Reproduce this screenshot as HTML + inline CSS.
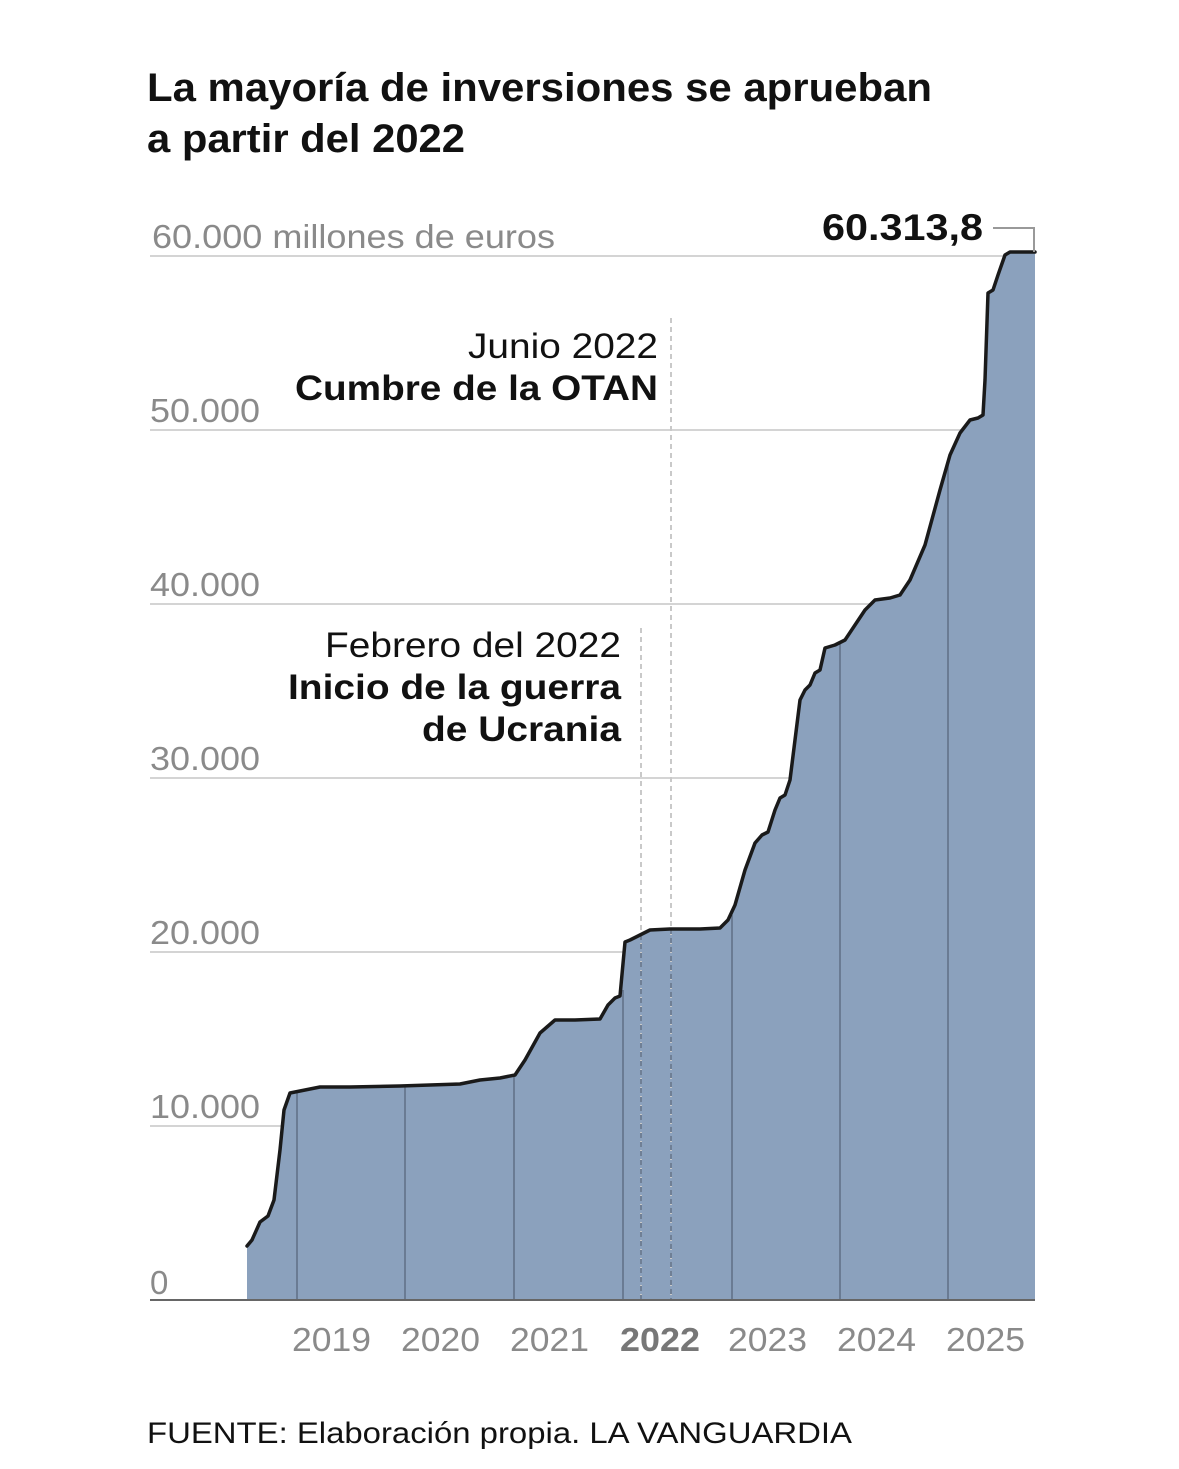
<!DOCTYPE html>
<html><head><meta charset="utf-8">
<style>
html,body{margin:0;padding:0;background:#fff;}
body{width:1179px;height:1469px;overflow:hidden;}
svg{display:block;font-family:"Liberation Sans",Arial,sans-serif;}
</style></head>
<body>
<svg width="1179" height="1469" viewBox="0 0 1179 1469">
<text x="147" y="101" font-size="40" font-weight="bold" fill="#111" textLength="785" lengthAdjust="spacingAndGlyphs">La mayoría de inversiones se aprueban</text>
<text x="147" y="152" font-size="40" font-weight="bold" fill="#111" textLength="318" lengthAdjust="spacingAndGlyphs">a partir del 2022</text>

<g stroke="#d4d4d4" stroke-width="2">
<line x1="150" y1="256" x2="1035" y2="256"/>
<line x1="150" y1="430" x2="1035" y2="430"/>
<line x1="150" y1="604" x2="1035" y2="604"/>
<line x1="150" y1="778" x2="1035" y2="778"/>
<line x1="150" y1="952" x2="1035" y2="952"/>
<line x1="150" y1="1126" x2="1035" y2="1126"/>
</g>
<g font-size="33" fill="#8a8a8a" lengthAdjust="spacingAndGlyphs">
<text x="152" y="248" textLength="403" lengthAdjust="spacingAndGlyphs">60.000 millones de euros</text>
<text x="150" y="422" textLength="110" lengthAdjust="spacingAndGlyphs">50.000</text>
<text x="150" y="596" textLength="110" lengthAdjust="spacingAndGlyphs">40.000</text>
<text x="150" y="770" textLength="110" lengthAdjust="spacingAndGlyphs">30.000</text>
<text x="150" y="944" textLength="110" lengthAdjust="spacingAndGlyphs">20.000</text>
<text x="150" y="1118" textLength="110" lengthAdjust="spacingAndGlyphs">10.000</text>
<text x="150" y="1294">0</text>
</g>

<path fill="#8ba1bd" stroke="none" d="M247,1300 L247,1246 L252,1240 L260,1222 L268,1216 L274,1200 L280,1150 L284,1110 L290,1093 L300,1091 L320,1087 L350,1087 L400,1086 L460,1084 L480,1080 L500,1078 L515,1075 L525,1060 L540,1033 L555,1020 L575,1020 L600,1019 L608,1005 L615,998 L620,996 L625,942 L630,940 L640,935 L650,930 L670,929 L700,929 L720,928 L728,920 L735,905 L745,870 L755,843 L762,835 L768,832 L775,810 L780,798 L785,795 L790,780 L795,740 L800,700 L805,690 L810,685 L815,673 L820,670 L825,648 L835,645 L845,640 L855,625 L865,610 L875,600 L890,598 L900,595 L910,580 L925,545 L940,490 L950,455 L960,433 L970,420 L978,418 L983,415 L985,380 L988,293 L993,290 L998,275 L1005,255 L1010,252 L1035,252 L1035,1300 Z"/>

<g stroke="#5f6f85" stroke-width="1.5">
<line x1="297" y1="1092" x2="297" y2="1300"/>
<line x1="405" y1="1086" x2="405" y2="1300"/>
<line x1="514" y1="1076" x2="514" y2="1300"/>
<line x1="623" y1="990" x2="623" y2="1300"/>
<line x1="732" y1="915" x2="732" y2="1300"/>
<line x1="840" y1="644" x2="840" y2="1300"/>
<line x1="948" y1="460" x2="948" y2="1300"/>
</g>

<line x1="641" y1="628" x2="641" y2="1300" stroke="#c9c9c9" stroke-width="2" stroke-dasharray="5,4"/>
<line x1="671" y1="318" x2="671" y2="1300" stroke="#c9c9c9" stroke-width="2" stroke-dasharray="5,4"/>
<line x1="641" y1="935" x2="641" y2="1300" stroke="#6f7f95" stroke-width="2" stroke-dasharray="5,4"/>
<line x1="671" y1="929" x2="671" y2="1300" stroke="#6f7f95" stroke-width="2" stroke-dasharray="5,4"/>

<polyline fill="none" stroke="#1a1a1a" stroke-width="3.5" stroke-linejoin="round" stroke-linecap="round" points="247,1246 252,1240 260,1222 268,1216 274,1200 280,1150 284,1110 290,1093 300,1091 320,1087 350,1087 400,1086 460,1084 480,1080 500,1078 515,1075 525,1060 540,1033 555,1020 575,1020 600,1019 608,1005 615,998 620,996 625,942 630,940 640,935 650,930 670,929 700,929 720,928 728,920 735,905 745,870 755,843 762,835 768,832 775,810 780,798 785,795 790,780 795,740 800,700 805,690 810,685 815,673 820,670 825,648 835,645 845,640 855,625 865,610 875,600 890,598 900,595 910,580 925,545 940,490 950,455 960,433 970,420 978,418 983,415 985,380 988,293 993,290 998,275 1005,255 1010,252 1035,252"/>

<line x1="150" y1="1300" x2="1035" y2="1300" stroke="#666" stroke-width="2"/>

<polyline fill="none" stroke="#999" stroke-width="2" points="993,228 1034,228 1034,252"/>
<text x="822" y="240" font-size="37" font-weight="bold" fill="#111" textLength="161" lengthAdjust="spacingAndGlyphs">60.313,8</text>

<text x="468" y="358" font-size="35" fill="#111" textLength="190" lengthAdjust="spacingAndGlyphs">Junio 2022</text>
<text x="295" y="400" font-size="35" font-weight="bold" fill="#111" textLength="363" lengthAdjust="spacingAndGlyphs">Cumbre de la OTAN</text>
<text x="325" y="657" font-size="35" fill="#111" textLength="296" lengthAdjust="spacingAndGlyphs">Febrero del 2022</text>
<text x="288" y="699" font-size="35" font-weight="bold" fill="#111" textLength="333" lengthAdjust="spacingAndGlyphs">Inicio de la guerra</text>
<text x="422" y="741" font-size="35" font-weight="bold" fill="#111" textLength="199" lengthAdjust="spacingAndGlyphs">de Ucrania</text>

<g font-size="33" fill="#8a8a8a">
<text x="292" y="1351" textLength="79" lengthAdjust="spacingAndGlyphs">2019</text>
<text x="401" y="1351" textLength="79" lengthAdjust="spacingAndGlyphs">2020</text>
<text x="510" y="1351" textLength="79" lengthAdjust="spacingAndGlyphs">2021</text>
<text x="620" y="1351" textLength="80" lengthAdjust="spacingAndGlyphs" font-weight="bold" fill="#777">2022</text>
<text x="728" y="1351" textLength="79" lengthAdjust="spacingAndGlyphs">2023</text>
<text x="837" y="1351" textLength="79" lengthAdjust="spacingAndGlyphs">2024</text>
<text x="946" y="1351" textLength="79" lengthAdjust="spacingAndGlyphs">2025</text>
</g>

<text x="147" y="1443" font-size="30" fill="#111" textLength="705" lengthAdjust="spacingAndGlyphs">FUENTE: Elaboración propia. LA VANGUARDIA</text>
</svg>
</body></html>
